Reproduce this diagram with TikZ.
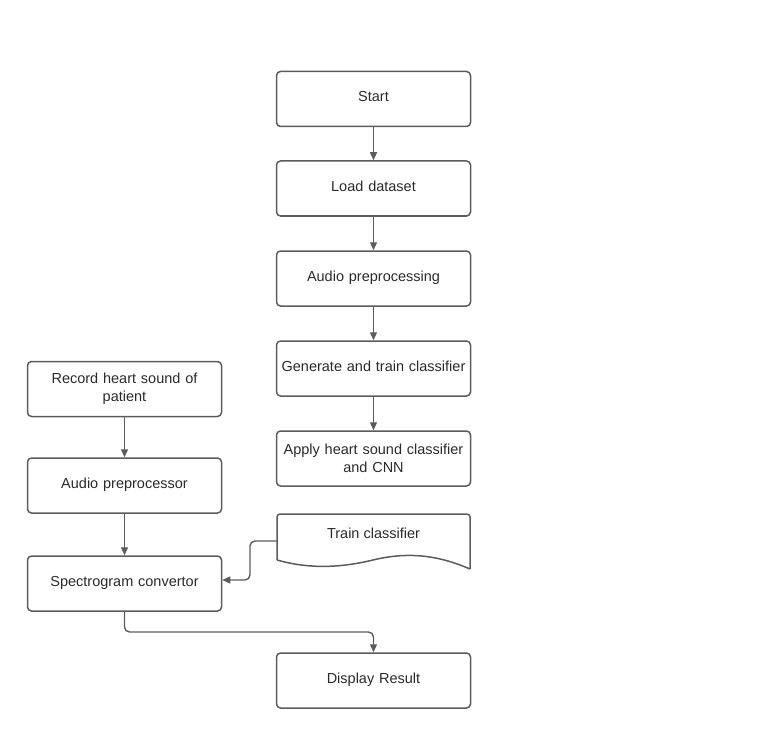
\documentclass[tikz,border=0pt]{standalone}
\usepackage{fontspec}
\setmainfont{Liberation Sans}
\usetikzlibrary{arrows.meta}
\definecolor{ln}{HTML}{5C5C5C}
\definecolor{tx}{HTML}{2A2A2A}
\tikzset{
  box/.style={draw=ln, line width=1.5pt, rounded corners=4pt, minimum width=193pt, minimum height=55pt, align=center, text=tx, font=\fontsize{14.5}{18}\selectfont, inner sep=2pt, text width=190pt},
  one/.style={text height=10.5pt, text depth=5pt},
  conn/.style={draw=ln, line width=1.4pt, -{Triangle[length=8pt,width=7pt]}, rounded corners=5pt},
}
\begin{document}
\begin{tikzpicture}[x=1pt,y=-1pt]
\useasboundingbox (0,0) rectangle (768,738);
\node[box,one] (start) at (373.5,99) {Start};
\node[box,one] (load) at (373.5,188.5) {Load dataset};
\node[box,one] (pre) at (373.5,278.5) {Audio preprocessing};
\node[box,one] (gen) at (373.5,368.5) {Generate and train classifier};
\node[box] (apply) at (373.5,458.5) {Apply heart sound classifier\\and CNN};
\node[box,one] (disp) at (373.5,680.5) {Display Result};
\node[box] (rec) at (124.5,389) {Record heart sound of\\patient};
\node[box,one] (app) at (124.5,485.5) {Audio preprocessor};
\node[box,one] (spec) at (124.5,583.5) {Spectrogram convertor};
% document shape
\draw[draw=ln, line width=1.5pt, rounded corners=3pt]
  (277,560) -- (277,514) -- (470,514) -- (470,569);
\draw[draw=ln, line width=1.5pt]
  (470,569) .. controls (440,556) and (410,551) .. (373,560)
  .. controls (336,569) and (305,568) .. (277,560);
\node[text=tx, font=\fontsize{14.5}{18}\selectfont] (train) at (373.5,533) {Train classifier};
\coordinate (trainL) at (277,541);
\coordinate (c1) at (250,541);
\coordinate (c2) at (250,580);
\coordinate (s1) at (124.5,632);
\coordinate (s2) at (373.5,632);
% connectors
\draw[conn] (start) -- (load);
\draw[conn] (load) -- (pre);
\draw[conn] (pre) -- (gen);
\draw[conn] (gen) -- (apply);
\draw[conn] (rec) -- (app);
\draw[conn] (app) -- (spec);
\draw[conn] (trainL) -- (c1) -- (c2) -- (spec.east |- c2);
\draw[conn] (spec.south) -- (s1) -- (s2) -- (disp.north);
\end{tikzpicture}
\end{document}
